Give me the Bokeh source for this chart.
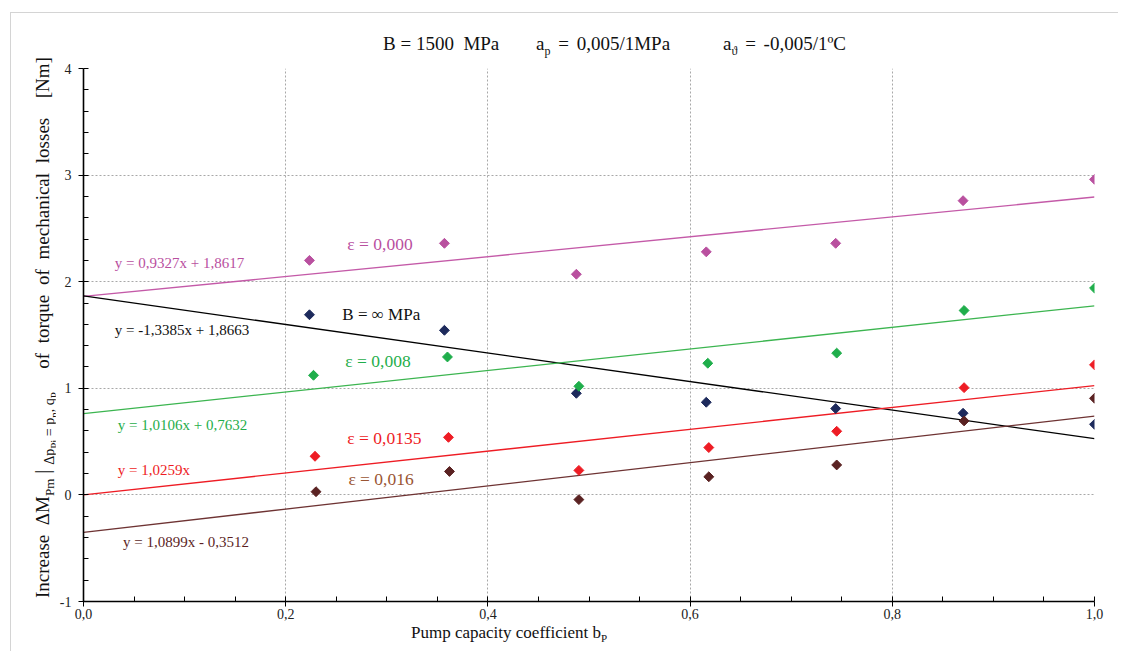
from bokeh.plotting import figure
from bokeh.models import Label, FixedTicker, CustomJSTickFormatter, Div
from bokeh.layouts import column, row
from bokeh.embed import file_html
from bokeh.resources import INLINE

# ---------------- data ----------------
x_e000 = [0.2235, 0.357, 0.4875, 0.616, 0.744, 0.870, 1.0]
y_e000 = [2.20, 2.36, 2.07, 2.28, 2.36, 2.76, 2.96]

x_binf = [0.2235, 0.357, 0.4875, 0.616, 0.744, 0.870, 1.0]
y_binf = [1.69, 1.544, 0.953, 0.869, 0.81, 0.766, 0.662]

x_e008 = [0.2275, 0.360, 0.490, 0.6175, 0.745, 0.871, 1.0]
y_e008 = [1.122, 1.294, 1.019, 1.235, 1.33, 1.73, 1.94]

x_e0135 = [0.229, 0.361, 0.490, 0.6185, 0.745, 0.871, 1.0]
y_e0135 = [0.362, 0.54, 0.23, 0.444, 0.597, 1.006, 1.22]

x_e016 = [0.230, 0.362, 0.490, 0.6185, 0.745, 0.871, 1.0]
y_e016 = [0.03, 0.22, -0.044, 0.17, 0.281, 0.694, 0.906]

# trend lines (slope, intercept) as printed on the chart
trend_slope = [0.9327, -1.3385, 1.0106, 1.0259, 1.0899]
trend_icept = [1.8617, 1.8663, 0.7632, 0.0, -0.3512]
trend_x = [0.0, 1.0]

x_ticks = [0.0, 0.2, 0.4, 0.6, 0.8, 1.0]
y_ticks = [-1, 0, 1, 2, 3, 4]

FONT = "Liberation Serif"

col_mag_pt = "#b9509f"
col_mag_ln = "#c45aa8"
col_navy = "#1d2a5c"
col_green_pt = "#1fae4b"
col_green_ln = "#3cb550"
col_red = "#ee1c24"
col_brown_pt = "#5a2222"
col_brown_ln = "#6e3333"

TOTAL_W = 1118
TITLE_H = 60
LAB_W = 55
FIG_W, FIG_H = TOTAL_W - LAB_W, 564
XLAB_H = 27

p = figure(width=FIG_W, height=FIG_H, x_range=(0, 1), y_range=(-1, 4),
           output_backend="svg", toolbar_location=None,
           min_border_left=28, min_border_right=24, min_border_top=8,
           min_border_bottom=23)
p.outline_line_color = None
p.background_fill_color = "white"
p.border_fill_color = "white"

# axes
p.xaxis.ticker = FixedTicker(ticks=x_ticks,
                             minor_ticks=[i * 0.05 for i in range(21)])
p.xaxis.formatter = CustomJSTickFormatter(code="return tick.toFixed(1).replace('.', ',');")
p.yaxis.ticker = FixedTicker(ticks=y_ticks,
                             minor_ticks=[-1 + i * 0.2 for i in range(26)])
p.yaxis.formatter = CustomJSTickFormatter(code="return String(Math.round(tick));")
for ax in (p.xaxis, p.yaxis):
    ax.axis_line_color = "black"
    ax.axis_line_width = 1.6
    ax.major_tick_line_color = "black"
    ax.minor_tick_line_color = "black"
    ax.major_tick_out = 5
    ax.major_tick_in = 0
    ax.minor_tick_in = 5
    ax.minor_tick_out = 0
    ax.major_label_text_font = FONT
    ax.major_label_text_font_size = "14px"
    ax.major_label_text_color = "#222222"
p.yaxis.major_label_standoff = 7
p.xaxis.major_label_standoff = 2

p.xgrid.ticker = FixedTicker(ticks=x_ticks)
p.ygrid.ticker = FixedTicker(ticks=y_ticks)
for g in (p.xgrid, p.ygrid):
    g.grid_line_color = "#a8a8a8"
    g.grid_line_dash = "2 2"
    g.grid_line_width = 1

# trend lines
line_cols = [col_mag_ln, "black", col_green_ln, col_red, col_brown_ln]
for s, c, col in zip(trend_slope, trend_icept, line_cols):
    p.line(trend_x, [s * xx + c for xx in trend_x], line_color=col, line_width=1.3)

# points
series = [(x_e000, y_e000, col_mag_pt), (x_binf, y_binf, col_navy),
          (x_e008, y_e008, col_green_pt), (x_e0135, y_e0135, col_red),
          (x_e016, y_e016, col_brown_pt)]
for xs, ys, col in series:
    p.scatter(xs, ys, marker="square", angle=0.7854, size=7,
              fill_color=col, line_color=col)

# in-plot labels (data units)
def dlabel(x, y, text, color, size):
    p.add_layout(Label(x=x, y=y, text=text, text_color=color, text_font=FONT,
                       text_font_size=size, text_baseline="middle",
                       text_align="left"))

dlabel(0.031, 2.18, "y = 0,9327x + 1,8617", col_mag_pt, "15px")
dlabel(0.261, 2.35, "ε = 0,000", col_mag_pt, "17.5px")
dlabel(0.256, 1.695, "B = ∞ MPa", "#111111", "17px")
dlabel(0.031, 1.55, "y = -1,3385x + 1,8663", "#111111", "15px")
dlabel(0.259, 1.255, "ε = 0,008", col_green_pt, "17.5px")
dlabel(0.034, 0.66, "y = 1,0106x + 0,7632", col_green_pt, "15px")
dlabel(0.261, 0.53, "ε = 0,0135", col_red, "17.5px")
dlabel(0.034, 0.23, "y = 1,0259x", col_red, "15px")
dlabel(0.262, 0.153, "ε = 0,016", "#9a5533", "17.5px")
dlabel(0.039, -0.44, "y = 1,0899x - 0,3512", "#5c1f1f", "15px")

# ---------------- text blocks around the plot (HTML, for subscripts) ----------------
BASE = "font-family:'Liberation Serif',serif; color:#111111; white-space:nowrap;"
GRAY = "#d4d4d4"

title_html = f"""<div style="position:relative; width:{TOTAL_W}px; height:{TITLE_H}px; {BASE}">
<div style="position:absolute; left:10px; top:12px; width:{TOTAL_W - 10}px; height:1px; background:{GRAY};"></div>
<div style="position:absolute; left:10px; top:12px; width:1px; height:{TITLE_H - 12}px; background:{GRAY};"></div>
<span style="position:absolute; left:383px; top:34px; font-size:19px; line-height:20px;">B&nbsp;=&nbsp;1500&nbsp;&nbsp;MPa</span>
<span style="position:absolute; left:536px; top:34px; font-size:19px; line-height:20px; word-spacing:3px;">a<sub style="font-size:12px;">p</sub>&nbsp;=&nbsp;0,005/1MPa</span>
<span style="position:absolute; left:723px; top:34px; font-size:19px; line-height:20px; word-spacing:3px;">a<sub style="font-size:12px;">&#977;</sub>&nbsp;=&nbsp;-0,005/1&#186;C</span>
</div>"""

ylab_html = f"""<div style="position:relative; width:{LAB_W}px; height:{FIG_H}px; {BASE}">
<div style="position:absolute; left:10px; top:0px; width:1px; height:{FIG_H}px; background:{GRAY};"></div>
<div style="position:absolute; left:32px; top:538px; transform-origin:0 0; transform:rotate(-90deg); font-size:19px; line-height:20px;">Increase&nbsp;&nbsp;&Delta;M<sub style="font-size:13px;">Pm</sub>&nbsp;<span style="font-size:22px;">|</span>&nbsp;<sub style="font-size:14px;">&Delta;p<sub style="font-size:11px;">Pi</sub>&nbsp;=&nbsp;p<sub style="font-size:11px;">n</sub>,&nbsp;q<sub style="font-size:11px;">P<sub style="font-size:9px;">gv</sub></sub></sub>&nbsp;&nbsp;&nbsp;<span style="word-spacing:5px;">of torque of mechanical losses&nbsp; [Nm]</span></div>
</div>"""

xlab_html = f"""<div style="position:relative; width:{TOTAL_W}px; height:{XLAB_H}px; {BASE}">
<div style="position:absolute; left:10px; top:0px; width:1px; height:{XLAB_H}px; background:{GRAY};"></div>
<span style="position:absolute; left:411px; top:0px; font-size:17px; line-height:18px;">Pump capacity coefficient b<sub style="font-size:11px;">P</sub></span>
</div>"""

title_div = Div(text=title_html, width=TOTAL_W, height=TITLE_H, margin=0)
ylab_div = Div(text=ylab_html, width=LAB_W, height=FIG_H, margin=0)
xlab_div = Div(text=xlab_html, width=TOTAL_W, height=XLAB_H, margin=0)

layout = column(title_div, row(ylab_div, p, spacing=0), xlab_div, spacing=0)

open("out.html", "w").write(file_html(layout, INLINE))
